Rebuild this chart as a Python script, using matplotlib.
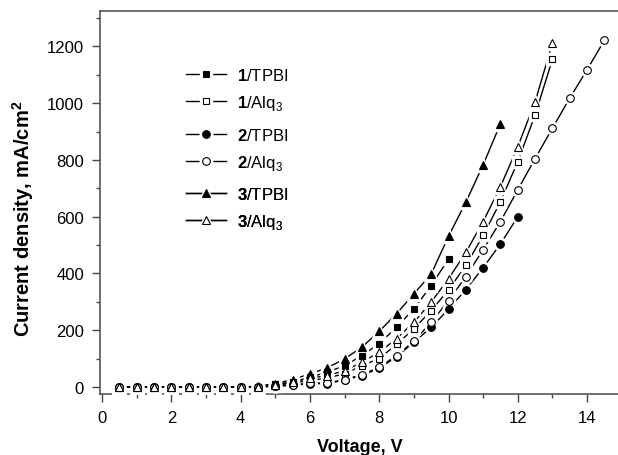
import matplotlib
matplotlib.use("Agg")
import matplotlib.pyplot as plt
from matplotlib.legend_handler import HandlerTuple
from matplotlib.ticker import MultipleLocator

plt.rcParams['font.family'] = ['Liberation Sans', 'DejaVu Sans']
plt.rcParams['mathtext.fontset'] = 'custom'
plt.rcParams['mathtext.rm'] = 'Liberation Sans'
plt.rcParams['mathtext.bf'] = 'Liberation Sans:bold'

voltage = [0.5, 1.0, 1.5, 2.0, 2.5, 3.0, 3.5, 4.0, 4.5, 5.0, 5.5, 6.0, 6.5, 7.0,
           7.5, 8.0, 8.5, 9.0, 9.5, 10.0, 10.5, 11.0, 11.5, 12.0, 12.5, 13.0,
           13.5, 14.0, 14.5]

j_1_tpbi = [0, 0, 0, 0, 0, 0, 0, 0, 1, 10, 17, 34, 52, 75, 110, 153, 210, 275,
            357, 451]
j_1_alq = [0, 0, 0, 0, 0, 0, 0, 0, 1, 5, 14, 22, 32, 46, 75, 100, 150, 205,
           269, 342, 428, 534, 653, 794, 959, 1155]
j_2_tpbi = [0, 0, 0, 0, 0, 0, 0, 0, 0, 2, 6, 11, 12, 24, 40, 66, 106, 158,
            210, 274, 343, 420, 504, 600]
j_2_alq = [0, 0, 0, 0, 0, 0, 0, 0, 0, 3, 7, 13, 14, 26, 43, 70, 110, 161, 228,
           304, 389, 484, 583, 695, 805, 912, 1018, 1118, 1222]
j_3_tpbi = [0, 0, 0, 0, 0, 0, 0, 0, 2, 12, 26, 46, 67, 99, 140, 196, 258, 328,
            398, 531, 651, 783, 928]
j_3_alq = [0, 0, 0, 0, 0, 0, 0, 0, 1, 7, 17, 31, 40, 57, 87, 122, 170, 228,
           299, 381, 474, 583, 706, 847, 1005, 1212]

labels = [r'$\mathbf{1}$/TPBI', r'$\mathbf{1}$/Alq$_3$',
          r'$\mathbf{2}$/TPBI', r'$\mathbf{2}$/Alq$_3$',
          r'$\mathbf{3}$/TPBI', r'$\mathbf{3}$/Alq$_3$']
series = [j_1_tpbi, j_1_alq, j_2_tpbi, j_2_alq, j_3_tpbi, j_3_alq]
markers = ['s', 's', 'o', 'o', '^', '^']
filled = [True, False, True, False, True, False]
sizes = [5, 5, 5.5, 5.5, 6, 6]

fig = plt.figure(figsize=(6.18, 4.56), dpi=100)
ax = fig.add_axes([100 / 618, 61 / 456, 520 / 618, 383 / 456])

handles = []
for y, m, f, ms in zip(series, markers, filled, sizes):
    x = voltage[:len(y)]
    fc = 'black' if f else 'white'
    ln, = ax.plot(x, y, color='black', lw=1.0, zorder=2)
    halo, = ax.plot(x, y, ls='none', marker=m, ms=ms + 3.5, mfc='white',
                    mec='white', mew=1, zorder=3)
    mk, = ax.plot(x, y, ls='none', marker=m, ms=ms, mfc=fc, mec='black',
                  mew=0.8, zorder=4)
    handles.append((ln, halo, mk))

ax.set_xlim(-0.06, 14.95)
ax.set_ylim(-25, 1325)
ax.xaxis.set_major_locator(MultipleLocator(2))
ax.xaxis.set_minor_locator(MultipleLocator(1))
ax.yaxis.set_major_locator(MultipleLocator(200))
ax.yaxis.set_minor_locator(MultipleLocator(100))
ax.tick_params(which='both', direction='out', top=False, right=False,
               labelsize=12, color='#444444', width=1)
ax.tick_params(which='major', length=5.5, pad=6)
ax.tick_params(which='minor', length=3)
for s in ['left', 'bottom', 'top']:
    ax.spines[s].set_color('#555555')
    ax.spines[s].set_linewidth(1.2)
ax.spines['right'].set_visible(False)

ax.set_xlabel('Voltage, V', fontsize=13, fontweight='bold')
ax.set_ylabel(r'Current density, mA/cm$^\mathbf{2}$', fontsize=14.5,
              fontweight='bold')
ax.xaxis.set_label_coords(0.5, -0.115)
ax.yaxis.set_label_coords(-0.124, 0.46)

tops = [0.855, 0.698, 0.543]
for k in range(3):
    leg = ax.legend(handles[2 * k:2 * k + 2], labels[2 * k:2 * k + 2],
                    handler_map={tuple: HandlerTuple(ndivide=1, pad=0)},
                    loc='upper left', bbox_to_anchor=(0.165, tops[k]),
                    frameon=False, fontsize=12, handlelength=2.4,
                    handletextpad=0.7, labelspacing=0.6, borderpad=0,
                    borderaxespad=0, numpoints=1)
    ax.add_artist(leg)

fig.savefig('out.png', dpi=100)
